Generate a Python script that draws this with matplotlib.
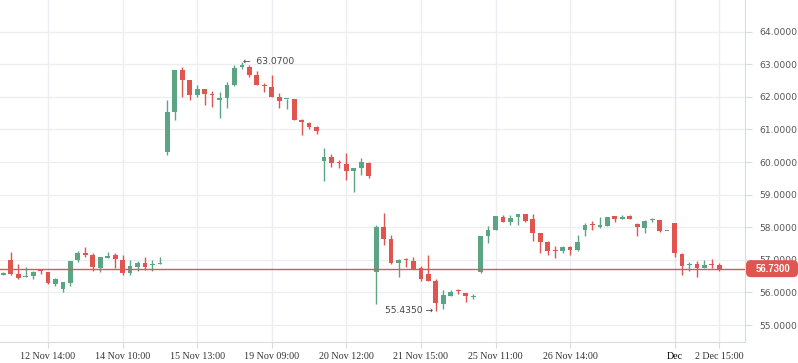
import numpy as np
import matplotlib
matplotlib.use("Agg")
import matplotlib.pyplot as plt
from matplotlib.patches import FancyBboxPatch

# OHLC values (97 candles)
opens = [56.55, 57.00, 56.57, 56.46, 56.49, 56.67, 56.63, 56.26, 56.11, 56.30,
         56.98, 57.21, 57.15, 56.74, 57.07, 57.15, 57.00, 56.61, 56.79, 56.90,
         56.83, 56.88, 60.32, 61.55, 62.83, 62.52, 62.07, 62.24, 62.10, 61.91,
         61.97, 62.36, 62.93, 62.93, 62.67, 62.37, 62.31, 61.99, 61.92, 61.93,
         61.29, 61.20, 61.07, 60.04, 60.16, 59.98, 59.94, 59.71, 59.83, 59.97,
         56.64, 58.01, 57.65, 56.91, 57.02, 56.97, 56.74, 56.57, 56.35, 55.66,
         55.90, 56.05, 55.98, 55.87, 56.64, 57.74, 57.92, 58.31, 58.17, 58.30,
         58.41, 58.25, 57.82, 57.55, 57.28, 57.27, 57.40, 57.30, 57.90, 58.08,
         58.02, 58.05, 58.33, 58.25, 58.33, 58.10, 57.99, 58.22, 58.23, 57.89,
         58.13, 57.18, 56.84, 56.87, 56.75, 56.85, 56.84]
highs = [56.63, 57.24, 56.87, 56.78, 56.65, 56.69, 56.63, 56.44, 56.33, 56.97,
         57.28, 57.40, 57.21, 57.09, 57.24, 57.20, 57.15, 57.00, 56.97, 57.09,
         57.00, 57.09, 61.90, 62.83, 62.93, 62.52, 62.36, 62.24, 62.17, 62.14,
         62.46, 62.98, 63.07, 62.97, 62.79, 62.42, 62.67, 62.11, 61.93, 61.93,
         61.32, 61.23, 61.09, 60.43, 60.25, 60.07, 60.28, 59.82, 60.12, 60.00,
         58.07, 58.44, 57.77, 57.03, 57.07, 57.08, 56.81, 57.15, 56.42, 56.06,
         56.08, 56.11, 55.98, 55.95, 57.73, 58.04, 58.36, 58.38, 58.38, 58.41,
         58.41, 58.41, 57.82, 57.58, 57.42, 57.43, 57.42, 57.76, 58.12, 58.18,
         58.32, 58.32, 58.36, 58.38, 58.38, 58.14, 58.23, 58.29, 58.23, 57.89,
         58.13, 57.22, 56.93, 56.97, 57.00, 57.02, 56.91]
lows = [56.52, 56.55, 56.41, 56.46, 56.42, 56.56, 56.25, 56.21, 56.02, 56.21,
        56.94, 57.10, 56.67, 56.64, 57.07, 56.76, 56.52, 56.55, 56.67, 56.70,
        56.67, 56.87, 60.23, 61.29, 61.98, 61.90, 62.01, 61.76, 61.70, 61.36,
        61.67, 62.33, 62.85, 62.62, 62.37, 62.16, 62.01, 61.66, 61.62, 61.30,
        60.84, 61.02, 60.87, 59.42, 59.86, 59.83, 59.46, 59.09, 59.61, 59.52,
        55.66, 57.47, 56.88, 56.48, 56.79, 56.73, 56.36, 56.36, 55.435, 55.50,
        55.90, 55.94, 55.72, 55.79, 56.59, 57.53, 57.92, 58.17, 58.07, 58.07,
        58.16, 57.59, 57.22, 57.16, 57.07, 57.22, 57.16, 57.27, 57.74, 57.93,
        57.99, 58.05, 58.17, 58.25, 58.24, 57.74, 57.83, 58.17, 57.86, 57.89,
        57.10, 56.54, 56.67, 56.48, 56.75, 56.75, 56.67]
closes = [56.61, 56.57, 56.45, 56.47, 56.63, 56.65, 56.30, 56.40, 56.33, 56.97,
          57.21, 57.14, 56.79, 57.09, 57.09, 57.04, 56.61, 56.81, 56.90, 56.79,
          56.88, 56.90, 61.54, 62.83, 62.53, 62.07, 62.24, 62.10, 62.05, 61.96,
          62.36, 62.89, 62.95, 62.68, 62.37, 62.34, 62.01, 61.88, 61.93, 61.30,
          61.22, 61.08, 60.96, 60.16, 59.98, 59.96, 59.71, 59.82, 60.00, 59.58,
          58.01, 57.65, 56.91, 57.00, 56.99, 56.73, 56.42, 56.36, 55.69, 55.91,
          56.01, 56.03, 55.90, 55.88, 57.73, 57.92, 58.33, 58.17, 58.28, 58.41,
          58.19, 57.83, 57.55, 57.28, 57.26, 57.40, 57.31, 57.55, 58.07, 58.06,
          58.04, 58.32, 58.25, 58.32, 58.26, 58.02, 58.19, 58.23, 57.89, 57.89,
          57.22, 56.82, 56.87, 56.75, 56.84, 56.83, 56.73]

tick_idx = [6, 16, 26, 36, 46, 56, 66, 76, 90, 96]
tick_labels = ["12 Nov 14:00", "14 Nov 10:00", "15 Nov 13:00", "19 Nov 09:00",
               "20 Nov 12:00", "21 Nov 15:00", "25 Nov 11:00", "26 Nov 14:00",
               "Dec", "2 Dec 15:00"]
y_ticks = [55, 56, 57, 58, 59, 60, 61, 62, 63, 64]
last_price = 56.73
max_idx, min_idx = 32, 58

GREEN = "#5ba584"
RED = "#e0554f"
GRID = "#eceef2"

o = np.array(opens); h = np.array(highs); l = np.array(lows); c = np.array(closes)
x = np.arange(len(o))
col = np.where(c > o, GREEN, np.where(c < o, RED, "#888888"))

fig = plt.figure(figsize=(7.98, 3.63), dpi=100)
ax = fig.add_axes([0, 21 / 363, 745 / 798, 342 / 363])

ax.set_xlim(-0.44, 99.45)
ax.set_ylim(54.48, 64.97)

# grid
for t in y_ticks:
    ax.axhline(t, color=GRID, lw=0.9, zorder=0)
for i in tick_idx:
    ax.axvline(i, color="#e2e4e8" if i == 90 else GRID, lw=1.0, zorder=0)

# candles
ax.vlines(x, l, h, colors=col, lw=1.0, zorder=2)
body_lo = np.minimum(o, c)
body_h = np.maximum(np.abs(c - o), 0.035)
ax.bar(x, body_h, bottom=body_lo, width=0.64, color=col, lw=0, zorder=3)

# last price line
ax.axhline(last_price, color=RED, lw=1.0, zorder=4)

# high / low annotations
ax.text(max_idx + 0.2, h[max_idx], "\u2190  63.0700", ha="left", va="center",
        fontsize=6.6, color="#444444", family="DejaVu Sans")
ax.text(min_idx - 0.3, l[min_idx], "55.4350 \u2192", ha="right", va="center",
        fontsize=6.6, color="#444444", family="DejaVu Sans")

# axes styling
for s in ["top", "left"]:
    ax.spines[s].set_visible(False)
ax.spines["right"].set_color("#d9dbe0")
ax.spines["bottom"].set_color("#d9dbe0")

ax.yaxis.tick_right()
ax.set_yticks(y_ticks)
ax.set_yticklabels([f"{v:.4f}" for v in y_ticks], fontsize=6.6,
                   color="#555555", family="DejaVu Sans")
ax.tick_params(axis="y", length=5, color="#d9dbe0", pad=5)

ax.set_xticks(tick_idx)
ax.set_xticklabels(tick_labels, fontsize=7.2, color="#333333",
                   family="Liberation Serif")
ax.tick_params(axis="x", length=4, color="#d9dbe0", pad=3)
ax.get_xticklabels()[8].set_color("#000000")

# last price label on the axis
fig.canvas.draw()
yfig = fig.transFigure.inverted().transform(ax.transData.transform((0, last_price)))[1]
box = FancyBboxPatch((746 / 798, yfig - 8.5 / 363), 52 / 798, 17 / 363,
                     boxstyle="round,pad=0,rounding_size=0.006",
                     mutation_aspect=798 / 363,
                     transform=fig.transFigure, facecolor=RED, edgecolor="none",
                     clip_on=False)
fig.patches.append(box)
fig.text(756 / 798, yfig, f"{last_price:.4f}", ha="left", va="center",
         fontsize=6.9, color="white", fontweight="bold", family="Liberation Sans")

fig.savefig("out.png", dpi=100)
